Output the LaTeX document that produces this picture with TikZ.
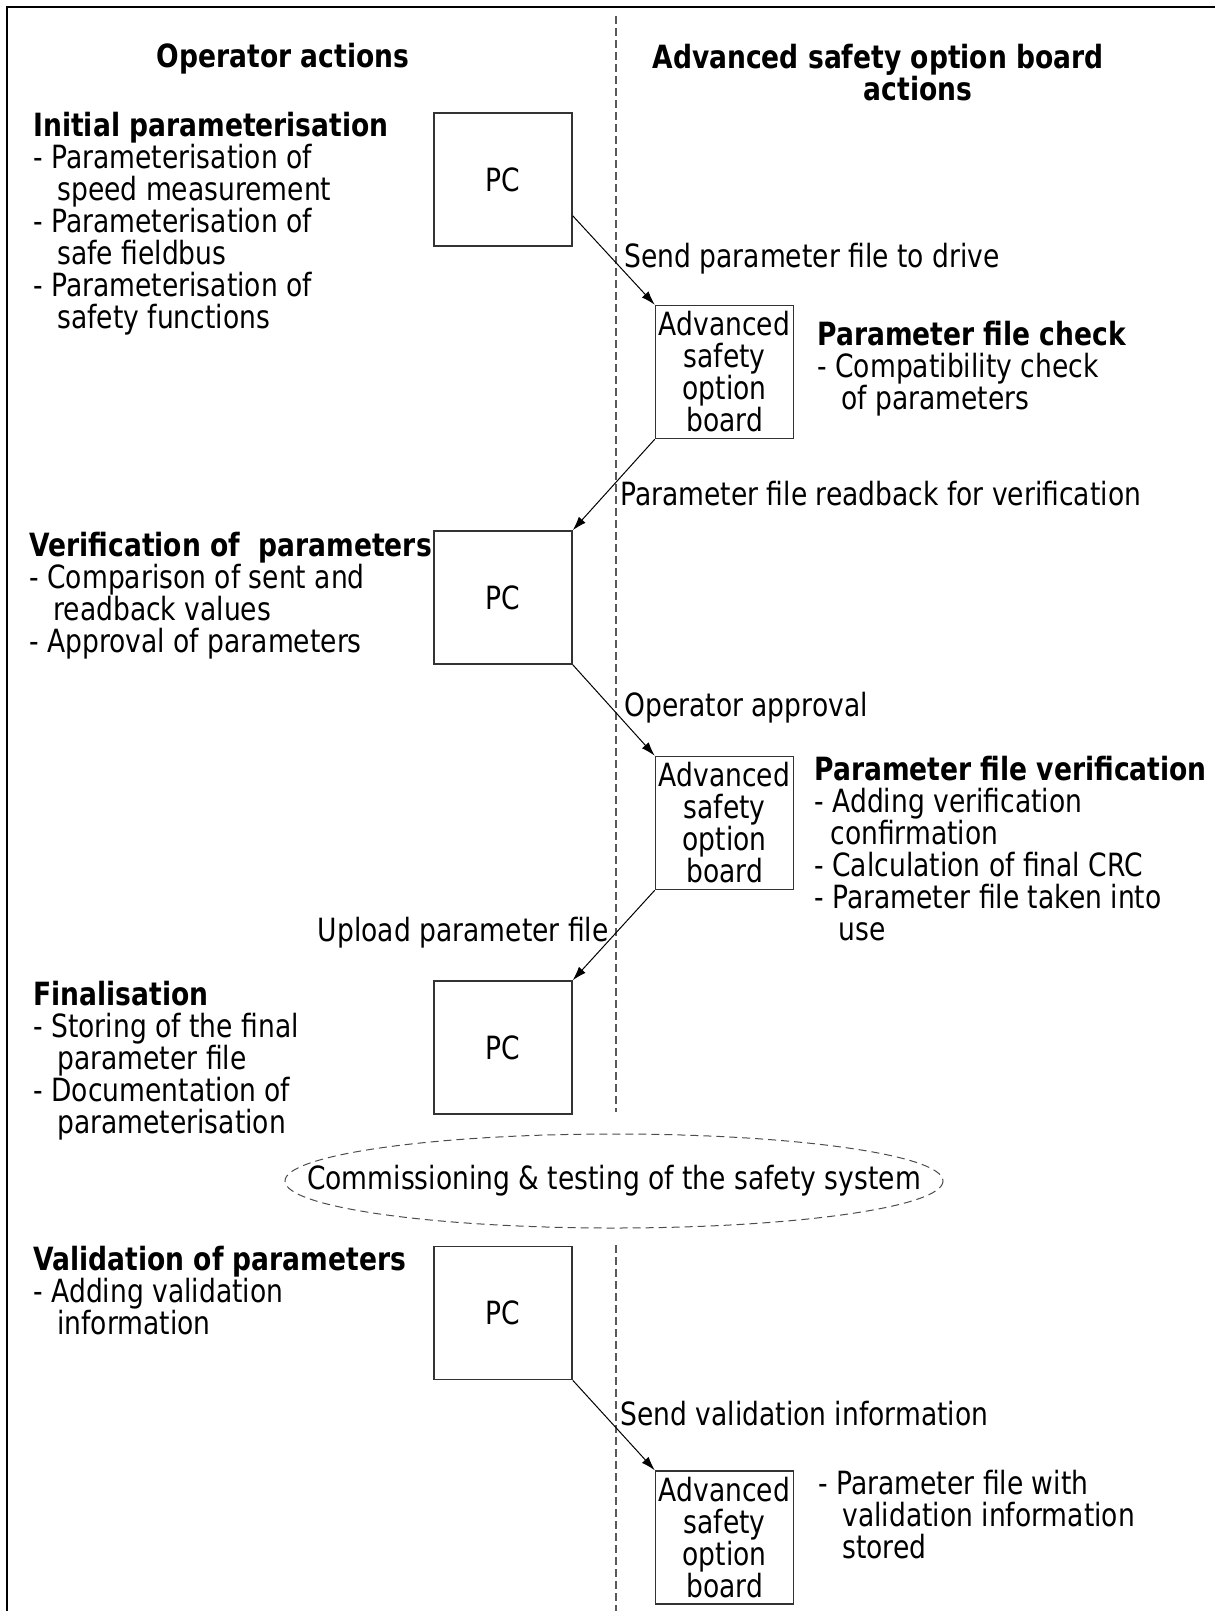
\documentclass[tikz,border=0pt]{standalone}
\usepackage{fontspec}
\setmainfont{DejaVu Sans}[FakeStretch=0.83]
\usetikzlibrary{arrows.meta,shapes.geometric,calc}
\begin{document}
\begin{tikzpicture}[x=0.5pt,y=-0.5pt,
  every node/.style={font=\fontsize{16}{16}\selectfont, inner sep=0pt},
  box/.style={draw=black!80, line width=0.75pt, minimum width=69pt, minimum height=66.5pt, align=center},
  flow/.style={-{Latex[length=7pt,width=4.5pt]}, line width=0.5pt},
  txt/.style={anchor=north west, align=left},
  lbl/.style={anchor=west},
  lane/.style={draw=black!65, line width=0.7pt, dash pattern=on 4pt off 2pt}]
\useasboundingbox (0,0) rectangle (1215,1611);
% frame
\draw[line width=1pt] (7,1611) -- (7,7) -- (1215,7);
% swim lane divider
\coordinate (laneA) at (616,16);
\coordinate (laneB) at (616,1112);
\coordinate (laneC) at (616,1245);
\coordinate (laneD) at (616,1611);
\draw[lane] (laneA) -- (laneB);
\draw[lane] (laneC) -- (laneD);
% headers
\node[font=\fontsize{16}{16}\selectfont\bfseries] (hop) at (283,59) {Operator actions};
\node[font=\fontsize{16}{16}\selectfont\bfseries, align=center] (hbd) at (878,73) {Advanced safety option board\\\hspace*{40pt}actions};
% boxes
\node[box] (pc1) at (503,179.5) {PC};
\node[box] (asob1) at (724.5,372) {Advanced\\safety\\option\\board};
\node[box] (pc2) at (503,597.5) {PC};
\node[box] (asob2) at (724.5,823) {Advanced\\safety\\option\\board};
\node[box] (pc3) at (503,1047.5) {PC};
\node[box] (pc4) at (503,1313) {PC};
\node[box] (asob3) at (724.5,1537.5) {Advanced\\safety\\option\\board};
% connectors
\draw[flow] ($(pc1.north east)!0.77!(pc1.south east)$) -- (asob1.north west);
\draw[flow] (asob1.south west) -- (pc2.north east);
\draw[flow] (pc2.south east) -- (asob2.north west);
\draw[flow] (asob2.south west) -- (pc3.north east);
\draw[flow] (pc4.south east) -- (asob3.north west);
% connector labels
\node[lbl] (l1) at (624,259) {Send parameter file to drive};
\node[lbl] (l2) at (620,494) {Parameter file readback for verification};
\node[lbl] (l3) at (624,708) {Operator approval};
\node[anchor=east] (l4) at (609,933) {Upload parameter file};
\node[lbl] (l5) at (620,1414) {Send validation information};
% text blocks
\node[txt] (tinit) at (33,112) {\textbf{Initial parameterisation}\\- Parameterisation of\\\hspace*{12pt}speed measurement\\- Parameterisation of\\\hspace*{12pt}safe fieldbus\\- Parameterisation of\\\hspace*{12pt}safety functions};
\node[txt] (tverif) at (29,532) {\textbf{Verification of~~parameters}\\- Comparison of sent and\\\hspace*{12pt}readback values\\- Approval of parameters};
\node[txt] (tfinal) at (33,981) {\textbf{Finalisation}\\- Storing of the final\\\hspace*{12pt}parameter file\\- Documentation of\\\hspace*{12pt}parameterisation};
\node[txt] (tvalid) at (33,1246) {\textbf{Validation of parameters}\\- Adding validation\\\hspace*{12pt}information};
\node[txt] (tcheck) at (817,321) {\textbf{Parameter file check}\\- Compatibility check\\\hspace*{12pt}of parameters};
\node[txt] (tpver) at (814,756) {\textbf{Parameter file verification}\\- Adding verification\\\hspace*{8pt}confirmation\\- Calculation of final CRC\\- Parameter file taken into\\\hspace*{12pt}use};
\node[txt] (tstore) at (818,1470) {- Parameter file with\\\hspace*{12pt}validation information\\\hspace*{12pt}stored};
% commissioning ellipse
\node (comm) at (614,1181) {Commissioning \& testing of the safety system};
\draw[draw=black!70, line width=0.5pt, dash pattern=on 4pt off 2.5pt] (comm.center) ellipse [x radius=329, y radius=47];
\end{tikzpicture}
\end{document}
